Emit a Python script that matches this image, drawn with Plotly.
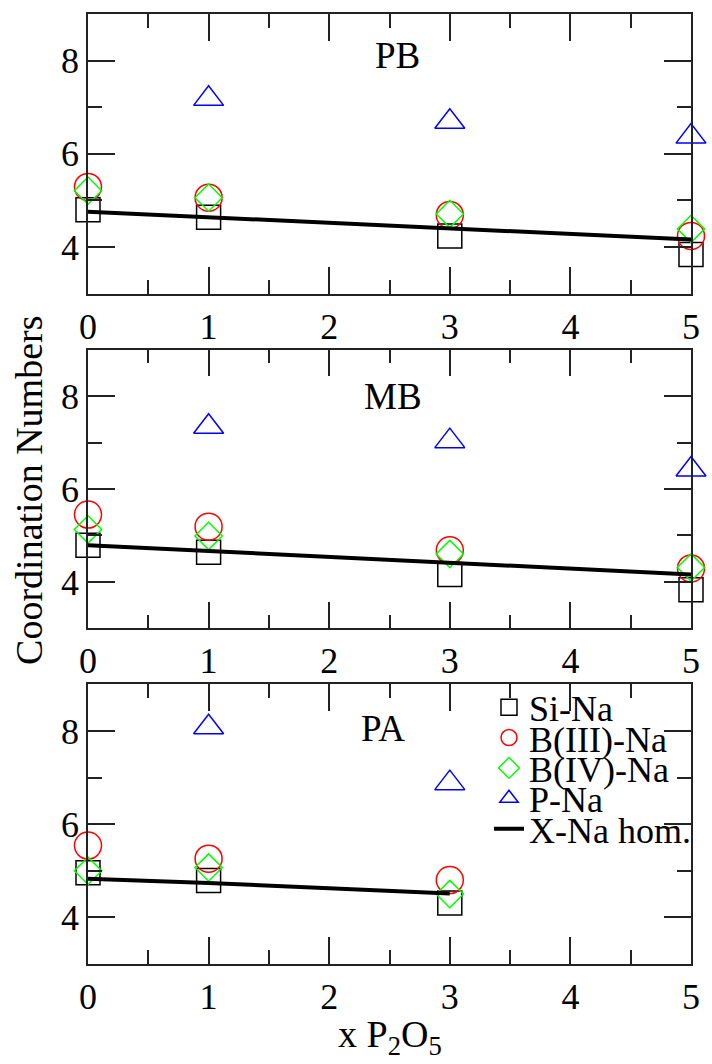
import plotly.graph_objects as go
from plotly.subplots import make_subplots

# ---------------- data ----------------
panels = ["PB", "MB", "PA"]
x_full = [0, 1, 3, 5]
x_pa = [0, 1, 3]
x_p_full = [1, 3, 5]
x_p_pa = [1, 3]

si_pb = [4.80, 4.64, 4.24, 3.84]
b3_pb = [5.29, 5.06, 4.69, 4.24]
b4_pb = [5.21, 5.06, 4.71, 4.39]
p_pb = [7.18, 6.69, 6.37]
hom_pb = [4.76, 4.64, 4.40, 4.16]

si_mb = [4.79, 4.64, 4.16, 3.83]
b3_mb = [5.45, 5.19, 4.68, 4.29]
b4_mb = [5.13, 4.99, 4.60, 4.31]
p_mb = [7.34, 7.03, 6.42]
hom_mb = [4.79, 4.66, 4.41, 4.16]

si_pa = [4.96, 4.79, 4.31]
b3_pa = [5.54, 5.26, 4.80]
b4_pa = [5.00, 5.07, 4.50]
p_pa = [8.08, 6.88]
hom_pa = [4.83, 4.74, 4.51]

x_ticks = [0, 1, 2, 3, 4, 5]
y_ticks = [4, 6, 8]
series_names = ["Si-Na", "B(III)-Na", "B(IV)-Na", "P-Na", "X-Na hom."]

FONT = "Liberation Serif"

panel_data = [
    (x_full, si_pb, b3_pb, b4_pb, x_p_full, p_pb, hom_pb),
    (x_full, si_mb, b3_mb, b4_mb, x_p_full, p_mb, hom_mb),
    (x_pa, si_pa, b3_pa, b4_pa, x_p_pa, p_pa, hom_pa),
]
label_pos = [(2.57, 8.10), (2.53, 7.99), (2.45, 8.06)]

fig = make_subplots(rows=3, cols=1, shared_xaxes=False, vertical_spacing=0.0589)

styles = [
    dict(symbol="square-open", size=24, color="black"),
    dict(symbol="circle-open", size=27, color="red"),
    dict(symbol="diamond-open", size=21, color="#00ff00"),
    dict(symbol="triangle-up-open", size=26, color="blue"),
]

legend_y_px = [707, 737.4, 767.8, 798.2, 828.6]
legend_names = ["legend", "legend2", "legend3", "legend4", "legend5"]

for i, (xs, si, b3, b4, xp, pn, hom) in enumerate(panel_data):
    row = i + 1
    show = (i == 2)
    series = [(xs, si), (xs, b3), (xs, b4), (xp, pn)]
    for k, ((xx, yy), st) in enumerate(zip(series, styles)):
        fig.add_trace(go.Scatter(
            x=xx, y=yy, mode="markers", name=series_names[k],
            marker=dict(symbol=st["symbol"], size=st["size"], color=st["color"],
                        line=dict(color=st["color"], width=1.5)),
            cliponaxis=False, showlegend=show, legend=legend_names[k],
        ), row=row, col=1)
    fig.add_trace(go.Scatter(
        x=xs, y=hom, mode="lines", name=series_names[4],
        line=dict(color="black", width=4),
        cliponaxis=False, showlegend=show, legend=legend_names[4],
    ), row=row, col=1)
    fig.add_annotation(x=label_pos[i][0], y=label_pos[i][1], xref=f"x{'' if row == 1 else row}",
                       yref=f"y{'' if row == 1 else row}", text=panels[i], showarrow=False,
                       font=dict(family=FONT, size=37, color="black"),
                       xanchor="center", yanchor="middle")

domains = [[0.7056, 1.0], [0.3533, 0.6467], [0.0, 0.2944]]
for i in range(3):
    row = i + 1
    fig.update_xaxes(range=[0, 5], tickvals=x_ticks, ticktext=[str(v) for v in x_ticks],
                     ticks="inside", ticklen=27, tickwidth=1.5, tickcolor="#222",
                     showline=True, linecolor="#222", linewidth=1.5, mirror="allticks",
                     showgrid=False, zeroline=False,
                     minor=dict(dtick=0.5, tick0=0, ticks="inside", ticklen=14, tickwidth=1.5,
                                tickcolor="#222", showgrid=False),
                     tickfont=dict(family=FONT, size=36, color="black"),
                     row=row, col=1)
    fig.update_yaxes(range=[3, 9], tickvals=y_ticks, ticktext=[str(v) for v in y_ticks],
                     ticks="inside", ticklen=27, tickwidth=1.5, tickcolor="#222",
                     showline=True, linecolor="#222", linewidth=1.5, mirror="allticks",
                     showgrid=False, zeroline=False,
                     minor=dict(dtick=1, tick0=3, ticks="inside", ticklen=14, tickwidth=1.5,
                                tickcolor="#222", showgrid=False),
                     tickfont=dict(family=FONT, size=36, color="black"),
                     domain=domains[i], row=row, col=1)

H_PLOT = 951.0
def py(p):
    return (964.0 - p) / H_PLOT

legend_layout = {}
for n, ypx in zip(legend_names, legend_y_px):
    legend_layout[n] = dict(x=0.665, y=py(ypx), xanchor="left", yanchor="middle",
                            bgcolor="rgba(0,0,0,0)", borderwidth=0,
                            font=dict(family=FONT, size=36, color="black"),
                            itemwidth=30)

fig.add_annotation(x=-0.098, y=py(489.5), xref="paper", yref="paper",
                   text="Coordination Numbers", textangle=-90, showarrow=False,
                   font=dict(family=FONT, size=38, color="black"),
                   xanchor="center", yanchor="middle")
fig.add_annotation(x=0.5, y=py(1037), xref="paper", yref="paper",
                   text="x P<sub>2</sub>O<sub>5</sub>", showarrow=False,
                   font=dict(family=FONT, size=38, color="black"),
                   xanchor="center", yanchor="middle")

fig.update_layout(
    width=712, height=1064,
    margin=dict(l=88, r=12, t=13, b=100),
    paper_bgcolor="white", plot_bgcolor="white",
    font=dict(family=FONT, color="black"),
    **legend_layout,
)

fig.write_html("out.html")
